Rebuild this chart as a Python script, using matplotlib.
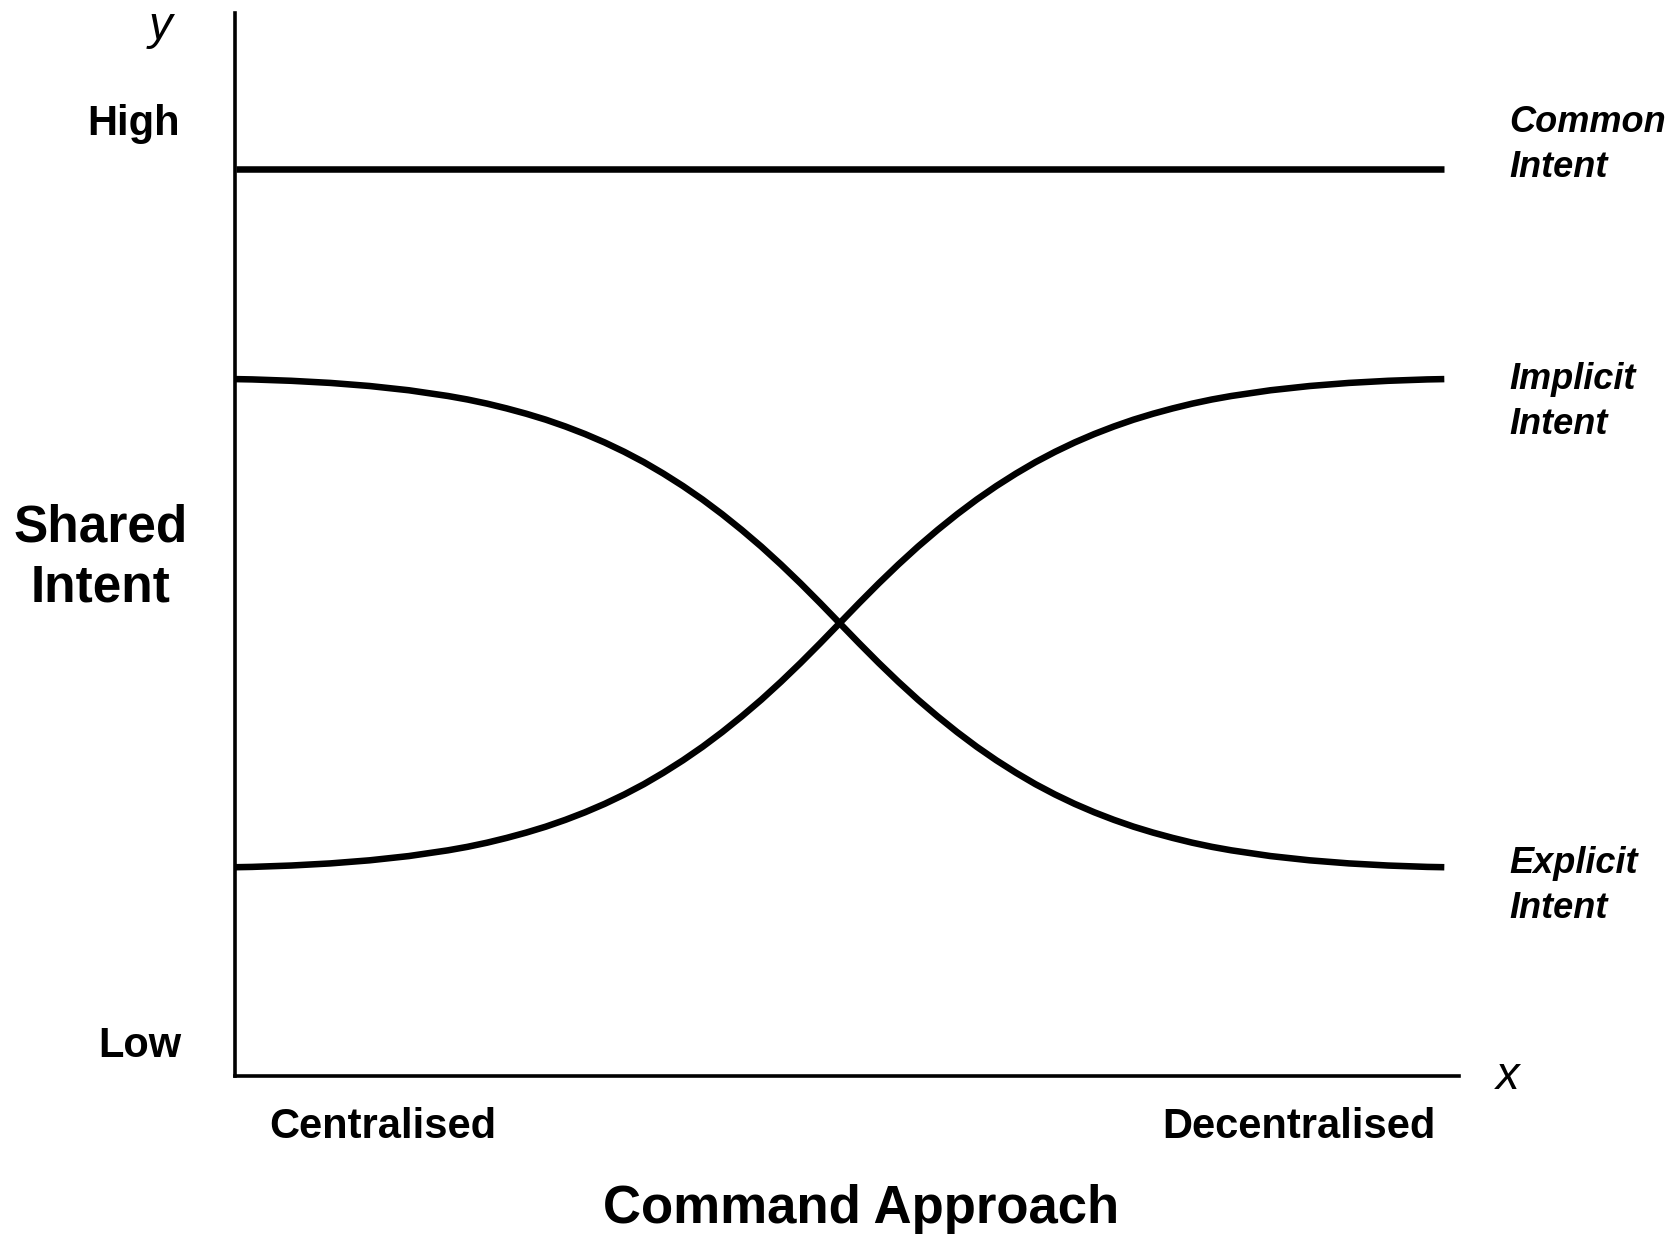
import matplotlib
matplotlib.use("Agg")
import matplotlib.pyplot as plt

plt.rcParams['font.family'] = ['Liberation Sans', 'DejaVu Sans']

# command approach position (0 = centralised, 100 = decentralised), shared intent level (0 = low, 100 = high)
common_x = [0.1, 98.8]
common_y = [85.3, 85.3]

curve_x = [0.0, 1.4, 4.6, 7.8, 11.0, 14.2, 17.4, 19.0, 20.6, 22.2, 23.8, 25.4, 27.0,
           28.6, 30.2, 31.8, 33.4, 35.0, 36.6, 38.2, 39.8, 41.4, 43.0, 44.6, 46.2, 47.8,
           49.4,
           51.0, 52.6, 54.2, 55.8, 57.4, 59.0, 60.6, 62.2, 63.8, 65.4, 67.0, 68.6, 70.2,
           71.8, 73.4, 75.0, 76.6, 78.2, 79.8, 81.4, 84.6, 87.8, 91.0, 94.2, 97.4, 98.8]

explicit_y = [65.56, 65.53, 65.4, 65.2, 64.91, 64.51, 63.97, 63.64, 63.25, 62.8, 62.3, 61.74,
              61.1, 60.39, 59.6, 58.72, 57.75, 56.67, 55.5, 54.23, 52.85, 51.37, 49.8, 48.12,
              46.35, 44.5,
              42.6,
              40.7, 38.85, 37.08, 35.4, 33.83, 32.35, 30.97, 29.7, 28.53, 27.45, 26.48, 25.6,
              24.81, 24.1, 23.46, 22.9, 22.4, 21.95, 21.56, 21.23, 20.69, 20.29, 20.0, 19.8,
              19.67, 19.64]

implicit_y = [19.64, 19.67, 19.8, 20.0, 20.29, 20.69, 21.23, 21.56, 21.95, 22.4, 22.9, 23.46,
              24.1, 24.81, 25.6, 26.48, 27.45, 28.53, 29.7, 30.97, 32.35, 33.83, 35.4, 37.08,
              38.85, 40.7,
              42.6,
              44.5, 46.35, 48.12, 49.8, 51.37, 52.85, 54.23, 55.5, 56.67, 57.75, 58.72, 59.6,
              60.39, 61.1, 61.74, 62.3, 62.8, 63.25, 63.64, 63.97, 64.51, 64.91, 65.2, 65.4,
              65.53, 65.56]

W, H = 1676, 1236
fig = plt.figure(figsize=(W / 100, H / 100), dpi=100)
ax = fig.add_axes([235 / W, 1 - 1076 / H, (1459 - 235) / W, (1076 - 13) / H])
ax.set_xlim(0, 100)
ax.set_ylim(0, 100)

lw = 4.7
ax.plot(common_x, common_y, color='black', lw=lw, solid_capstyle='butt', clip_on=False)
ax.plot(curve_x, explicit_y, color='black', lw=lw, solid_capstyle='butt',
        solid_joinstyle='round', clip_on=False)
ax.plot(curve_x, implicit_y, color='black', lw=lw, solid_capstyle='butt',
        solid_joinstyle='round', clip_on=False)

for side in ['top', 'right']:
    ax.spines[side].set_visible(False)
for side in ['left', 'bottom']:
    ax.spines[side].set_linewidth(2.6)
    ax.spines[side].set_color('black')
ax.set_xticks([])
ax.set_yticks([])


def put(px, py, s, **kw):
    fig.text(px / W, 1 - py / H, s, **kw)


# axis letters
put(160, 27, 'y', fontsize=34, style='italic', ha='center', va='center')
put(1508, 1077, 'x', fontsize=34, style='italic', ha='center', va='center')

# y side
put(180, 124, 'High', fontsize=30, weight='bold', ha='right', va='center')
put(181, 1046, 'Low', fontsize=30, weight='bold', ha='right', va='center')
put(101, 558, 'Shared\nIntent', fontsize=37, weight='bold', ha='center', va='center',
    linespacing=1.3)

# x side
put(383, 1127, 'Centralised', fontsize=30, weight='bold', ha='center', va='center')
put(1299, 1127, 'Decentralised', fontsize=30, weight='bold', ha='center', va='center')
put(861, 1209, 'Command Approach', fontsize=38, weight='bold', ha='center', va='center')

# series labels
label_kw = dict(fontsize=26, weight='bold', style='italic', ha='left', va='center',
                linespacing=1.35)
put(1509, 145, 'Common\nIntent', **label_kw)
put(1509, 402, 'Implicit\nIntent', **label_kw)
put(1509, 886, 'Explicit\nIntent', **label_kw)

fig.savefig('out.png', dpi=100, facecolor='white')
plt.close(fig)
